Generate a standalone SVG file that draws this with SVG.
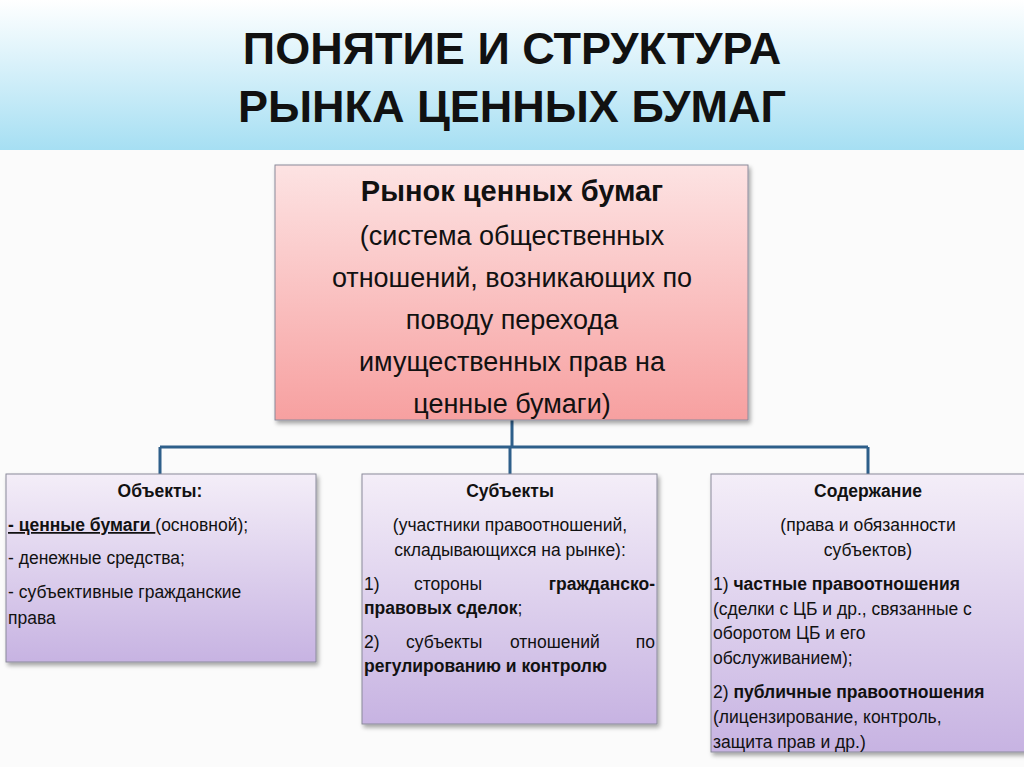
<svg xmlns="http://www.w3.org/2000/svg" width="1024" height="767" viewBox="0 0 1024 767">
<defs>
<linearGradient id="hdr" x1="0" y1="0" x2="0" y2="1"><stop offset="0" stop-color="#ffffff"/><stop offset="1" stop-color="#a6dff3"/></linearGradient>
<linearGradient id="red" x1="0" y1="0" x2="0" y2="1"><stop offset="0" stop-color="#fde3e3"/><stop offset="1" stop-color="#f7a0a0"/></linearGradient>
<linearGradient id="pur" x1="0" y1="0" x2="0" y2="1"><stop offset="0" stop-color="#f4eef8"/><stop offset="1" stop-color="#c7b3e2"/></linearGradient>
<filter id="sh" x="-5%" y="-5%" width="110%" height="115%"><feDropShadow dx="2" dy="3" stdDeviation="2" flood-color="#000" flood-opacity="0.35"/></filter>
</defs>
<style>
text{font-family:"Liberation Sans",Arial,sans-serif;fill:#111}
.t{font-size:45px;font-weight:bold}
.m{font-size:27px}
.s{font-size:17.5px}
.b{font-weight:bold}
.box{stroke:#8a8a9a;stroke-width:1}
.con{stroke:#2e5f8a;stroke-width:3;fill:none}
</style>
<rect width="1024" height="767" fill="#fbfbfb"/>
<rect x="0" y="0" width="1024" height="150" fill="url(#hdr)"/>
<text class="t" x="512" y="64" text-anchor="middle">ПОНЯТИЕ И СТРУКТУРА</text>
<text class="t" x="512" y="122" text-anchor="middle">РЫНКА ЦЕННЫХ БУМАГ</text>
<g id="connectors">
<path class="con" d="M512 420V447M160 447H868M160 447V474M510 447V474M868 447V474"/>
</g>
<g id="root">
<rect class="box" x="275" y="165" width="473" height="255" fill="url(#red)" filter="url(#sh)"/>
<text x="512" y="201" text-anchor="middle" style="font-size:29px;font-weight:bold">Рынок ценных бумаг</text>
<text class="m" x="512" y="245" text-anchor="middle">(система общественных</text>
<text class="m" x="512" y="287" text-anchor="middle">отношений, возникающих по</text>
<text class="m" x="512" y="329" text-anchor="middle">поводу перехода</text>
<text class="m" x="512" y="371" text-anchor="middle">имущественных прав на</text>
<text class="m" x="512" y="413" text-anchor="middle">ценные бумаги)</text>
</g>
<g id="objects">
<rect class="box" x="6" y="474" width="310" height="188" fill="url(#pur)" filter="url(#sh)"/>
<text class="s b" x="160" y="497" text-anchor="middle">Объекты:</text>
<text class="s" x="8" y="531"><tspan class="b" text-decoration="underline">- ценные бумаги </tspan>(основной);</text>
<text class="s" x="8" y="564">- денежные средства;</text>
<text class="s" x="8" y="598">- субъективные гражданские</text>
<text class="s" x="8" y="624">права</text>
</g>
<g id="subjects">
<rect class="box" x="362" y="474" width="295" height="250" fill="url(#pur)" filter="url(#sh)"/>
<text class="s b" x="510" y="497" text-anchor="middle">Субъекты</text>
<text class="s" x="510" y="531" text-anchor="middle">(участники правоотношений,</text>
<text class="s" x="510" y="556" text-anchor="middle">складывающихся на рынке):</text>
<text class="s" x="364" y="590">1)</text><text class="s" x="414" y="590">стороны</text><text class="s b" x="655" y="590" text-anchor="end">гражданско-</text>
<text class="s" x="364" y="614"><tspan class="b">правовых сделок</tspan>;</text>
<text class="s" x="364" y="648">2)</text><text class="s" x="406" y="648">субъекты</text><text class="s" x="510" y="648">отношений</text><text class="s" x="655" y="648" text-anchor="end">по</text>
<text class="s b" x="364" y="672">регулированию и контролю</text>
</g>
<g id="content">
<rect class="box" x="711" y="474" width="320" height="278" fill="url(#pur)" filter="url(#sh)"/>
<text class="s b" x="868" y="497" text-anchor="middle">Содержание</text>
<text class="s" x="868" y="531" text-anchor="middle">(права и обязанности</text>
<text class="s" x="868" y="556" text-anchor="middle">субъектов)</text>
<text class="s" x="713" y="590">1) <tspan class="b">частные правоотношения</tspan></text>
<text class="s" x="713" y="615">(сделки с ЦБ и др., связанные с</text>
<text class="s" x="713" y="639">оборотом ЦБ и его</text>
<text class="s" x="713" y="664">обслуживанием);</text>
<text class="s" x="713" y="698">2) <tspan class="b">публичные правоотношения</tspan></text>
<text class="s" x="713" y="723">(лицензирование, контроль,</text>
<text class="s" x="713" y="748">защита прав и др.)</text>
</g>
</svg>
